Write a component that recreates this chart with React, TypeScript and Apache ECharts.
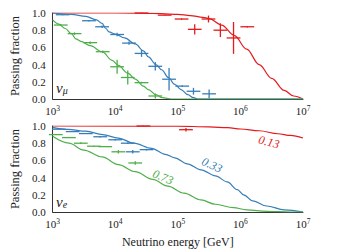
import React, { useEffect, useRef } from 'react';
import * as echarts from 'echarts';

const RED = '#e41a1c';
const BLUE = '#377eb8';
const GREEN = '#4daf4a';
const FONT = '"Liberation Serif", "Times New Roman", serif';

// x: log10(E / GeV), y: passing fraction
const decades = [3, 4, 5, 6, 7];
const yTicks = [0, 0.2, 0.4, 0.6, 0.8, 1.0];

// ---- nu_mu panel: model curves [log10E, fraction]
const muRedCurve = [[3, 1], [4, 1], [4.6, 0.995], [5.0, 0.985], [5.2, 0.97], [5.4, 0.95], [5.5, 0.935], [5.7, 0.86], [5.9, 0.74], [6.1, 0.58], [6.3, 0.4], [6.5, 0.24], [6.7, 0.1], [6.85, 0.035], [7, 0]];
const muBlueCurve = [[3, 1.0], [3.3, 0.985], [3.53, 0.96], [3.7, 0.92], [3.79, 0.88], [3.85, 0.82], [3.9, 0.78], [4.0, 0.755], [4.15, 0.71], [4.32, 0.64], [4.45, 0.56], [4.53, 0.49], [4.65, 0.4], [4.74, 0.34], [4.85, 0.25], [4.95, 0.17], [5.05, 0.11], [5.16, 0.05], [5.25, 0.015], [5.32, 0], [7, 0]];
const muGreenCurve = [[3, 0.92], [3.1, 0.87], [3.2, 0.82], [3.3, 0.76], [3.37, 0.7], [3.45, 0.67], [3.6, 0.62], [3.79, 0.55], [3.95, 0.45], [4.05, 0.39], [4.2, 0.3], [4.32, 0.23], [4.45, 0.15], [4.53, 0.11], [4.65, 0.05], [4.75, 0.015], [4.9, 0], [7, 0]];

// ---- nu_mu panel: measured points [log10E, fraction, yErr]
const muRedPts = [[4.42, 1.0, 0.003], [4.79, 0.975, 0.005], [5.06, 0.93, 0.008], [5.27, 0.81, 0.06], [5.49, 0.93, 0.04], [5.68, 0.8, 0.08], [5.89, 0.71, 0.185], [6.11, 0.84, 0.01]];
const muBluePts = [[3.16, 0.98, 0.005], [3.58, 0.91, 0.01], [3.79, 0.84, 0.015], [4.03, 0.75, 0.02], [4.22, 0.65, 0.02], [4.42, 0.53, 0.04], [4.64, 0.38, 0.05], [4.86, 0.23, 0.13], [5.07, 0.15, 0.01], [5.25, 0.09, 0.04], [5.5, 0.06, 0.05]];
const muGreenPts = [[3.13, 0.86, 0.01], [3.35, 0.76, 0.015], [3.6, 0.655, 0.015], [3.8, 0.55, 0.015], [4.03, 0.375, 0.08], [4.2, 0.25, 0.08], [4.42, 0.19, 0.01], [4.64, 0.035, 0.03]];

// ---- nu_e panel: model curves
const eRedCurve = [[3, 1], [5.0, 0.998], [5.5, 0.99], [5.8, 0.98], [6.0, 0.965], [6.3, 0.945], [6.6, 0.91], [6.8, 0.89], [7, 0.86]];
const eBlueCurve = [[3, 0.985], [3.25, 0.96], [3.53, 0.94], [3.8, 0.9], [4.05, 0.86], [4.3, 0.8], [4.58, 0.74], [4.8, 0.67], [4.95, 0.63], [5.15, 0.56], [5.37, 0.49], [5.6, 0.42], [5.79, 0.35], [5.95, 0.26], [6.05, 0.2], [6.2, 0.13], [6.42, 0.07], [6.7, 0.025], [7, 0]];
const eGreenCurve = [[3, 0.88], [3.26, 0.8], [3.5, 0.72], [3.79, 0.64], [4.05, 0.55], [4.32, 0.47], [4.6, 0.38], [4.84, 0.3], [5.1, 0.22], [5.37, 0.14], [5.6, 0.09], [5.89, 0.05], [6.1, 0.025], [6.42, 0.008], [6.8, 0], [7, 0]];

// ---- nu_e panel: measured points
const eRedPts = [[4.45, 1.0, 0.003], [5.13, 0.957, 0.02]];
const eBluePts = [[3.1, 0.963, 0.005], [3.32, 0.935, 0.005], [3.53, 0.912, 0.005], [3.76, 0.875, 0.008], [4.0, 0.84, 0.008], [4.2, 0.8, 0.008], [4.28, 0.7, 0.02], [4.5, 0.725, 0.01]];
const eGreenPts = [[3.05, 0.9, 0.005], [3.26, 0.865, 0.005], [3.45, 0.8, 0.01], [3.66, 0.765, 0.005], [3.84, 0.76, 0.005], [4.05, 0.7, 0.02], [4.32, 0.57, 0.02]];

// annotation values
const eRedLabel = '0.13';
const eBlueLabel = '0.33';
const eGreenLabel = '0.73';

const BIN_HALF = 0.11; // half bin width in decades

function lineSeries(curve: number[][], color: string, idx: number) {
  return {
    type: 'line',
    xAxisIndex: idx,
    yAxisIndex: idx,
    data: curve.map(([l, y]) => [Math.pow(10, l), y]),
    showSymbol: false,
    smooth: 0.35,
    smoothMonotone: 'x',
    lineStyle: { color, width: 1.2 },
    z: 2,
  };
}

function errSeries(pts: number[][], color: string, idx: number) {
  return {
    type: 'custom',
    xAxisIndex: idx,
    yAxisIndex: idx,
    clip: false,
    data: pts.map(([l, y, e]) => [Math.pow(10, l), y, Math.pow(10, l - BIN_HALF), Math.pow(10, l + BIN_HALF), y - e, y + e]),
    encode: { x: [0, 2, 3], y: [1, 4, 5] },
    renderItem: (params: any, api: any) => {
      const l = api.coord([api.value(2), api.value(1)]);
      const r = api.coord([api.value(3), api.value(1)]);
      const lo = api.coord([api.value(0), api.value(4)]);
      const hi = api.coord([api.value(0), api.value(5)]);
      return {
        type: 'group',
        children: [
          { type: 'line', shape: { x1: l[0], y1: l[1], x2: r[0], y2: r[1] }, style: { stroke: color, lineWidth: 1.3 } },
          { type: 'line', shape: { x1: lo[0], y1: lo[1], x2: hi[0], y2: hi[1] }, style: { stroke: color, lineWidth: 1.3 } },
        ],
      };
    },
    z: 3,
  };
}

function xAxis(idx: number, withName: boolean) {
  return {
    type: 'log',
    logBase: 10,
    gridIndex: idx,
    min: Math.pow(10, decades[0]),
    max: Math.pow(10, decades[decades.length - 1]),
    name: withName ? 'Neutrino energy [GeV]' : '',
    nameLocation: 'middle',
    nameGap: 24,
    nameTextStyle: { fontFamily: FONT, fontSize: 12, color: '#222' },
    axisLine: { show: true, lineStyle: { color: '#333', width: 1 } },
    axisTick: { show: false },
    splitLine: { show: false },
    minorTick: { show: false },
    axisLabel: {
      margin: 5,
      formatter: (v: number) => `{b|10}{s|${Math.round(Math.log10(v))}}`,
      rich: {
        b: { fontFamily: FONT, fontSize: 11, color: '#222', lineHeight: 13 },
        s: { fontFamily: FONT, fontSize: 7.5, color: '#222', verticalAlign: 'top', lineHeight: 9 },
      },
    },
  };
}

function yAxis(idx: number) {
  return {
    type: 'value',
    gridIndex: idx,
    min: yTicks[0],
    max: yTicks[yTicks.length - 1],
    interval: 0.2,
    name: 'Passing fraction',
    nameLocation: 'middle',
    nameGap: 29,
    nameTextStyle: { fontFamily: FONT, fontSize: 12.5, color: '#222' },
    axisLine: { show: true, lineStyle: { color: '#333', width: 1 } },
    axisTick: { show: false },
    splitLine: { show: false },
    axisLabel: {
      margin: 7,
      fontFamily: FONT,
      fontSize: 11,
      color: '#222',
      formatter: (v: number) => v.toFixed(1),
    },
  };
}

export default function App() {
  const ref = useRef<HTMLDivElement>(null);
  useEffect(() => {
    document.body.style.margin = '0';
    const chart = echarts.init(ref.current!, null, { renderer: 'svg' });
    chart.setOption({
      animation: false,
      backgroundColor: '#fff',
      grid: [
        { left: 50, top: 13, width: 253, height: 86 },
        { left: 50, top: 126, width: 253, height: 86 },
      ],
      xAxis: [xAxis(0, false), xAxis(1, true)],
      yAxis: [yAxis(0), yAxis(1)],
      series: [
        lineSeries(muRedCurve, RED, 0),
        lineSeries(muBlueCurve, BLUE, 0),
        lineSeries(muGreenCurve, GREEN, 0),
        errSeries(muRedPts, RED, 0),
        errSeries(muBluePts, BLUE, 0),
        errSeries(muGreenPts, GREEN, 0),
        lineSeries(eRedCurve, RED, 1),
        lineSeries(eBlueCurve, BLUE, 1),
        lineSeries(eGreenCurve, GREEN, 1),
        errSeries(eRedPts, RED, 1),
        errSeries(eBluePts, BLUE, 1),
        errSeries(eGreenPts, GREEN, 1),
      ],
      graphic: [
        {
          type: 'text', left: 56, top: 80,
          style: {
            text: '{n|ν}{s|μ}',
            rich: {
              n: { fontFamily: FONT, fontSize: 15, fontStyle: 'italic', fill: '#222' },
              s: { fontFamily: FONT, fontSize: 10, fontStyle: 'italic', fill: '#222', verticalAlign: 'bottom', padding: [6, 0, 0, 0] },
            },
          },
        },
        {
          type: 'text', left: 56, top: 194,
          style: {
            text: '{n|ν}{s|e}',
            rich: {
              n: { fontFamily: FONT, fontSize: 15, fontStyle: 'italic', fill: '#222' },
              s: { fontFamily: FONT, fontSize: 10, fontStyle: 'italic', fill: '#222', verticalAlign: 'bottom', padding: [6, 0, 0, 0] },
            },
          },
        },
        {
          type: 'text', x: 269, y: 142, rotation: -14 * Math.PI / 180,
          style: { text: eRedLabel, fill: RED, fontFamily: FONT, fontSize: 12, fontStyle: 'italic', align: 'center', verticalAlign: 'middle' },
        },
        {
          type: 'text', x: 212, y: 165, rotation: -25 * Math.PI / 180,
          style: { text: eBlueLabel, fill: BLUE, fontFamily: FONT, fontSize: 12, fontStyle: 'italic', align: 'center', verticalAlign: 'middle' },
        },
        {
          type: 'text', x: 163, y: 177, rotation: -22 * Math.PI / 180,
          style: { text: eGreenLabel, fill: GREEN, fontFamily: FONT, fontSize: 12, fontStyle: 'italic', align: 'center', verticalAlign: 'middle' },
        },
      ],
    });
    return () => chart.dispose();
  }, []);
  return <div ref={ref} style={{ position: 'absolute', left: 0, top: 0, width: 338, height: 250 }} />;
}
